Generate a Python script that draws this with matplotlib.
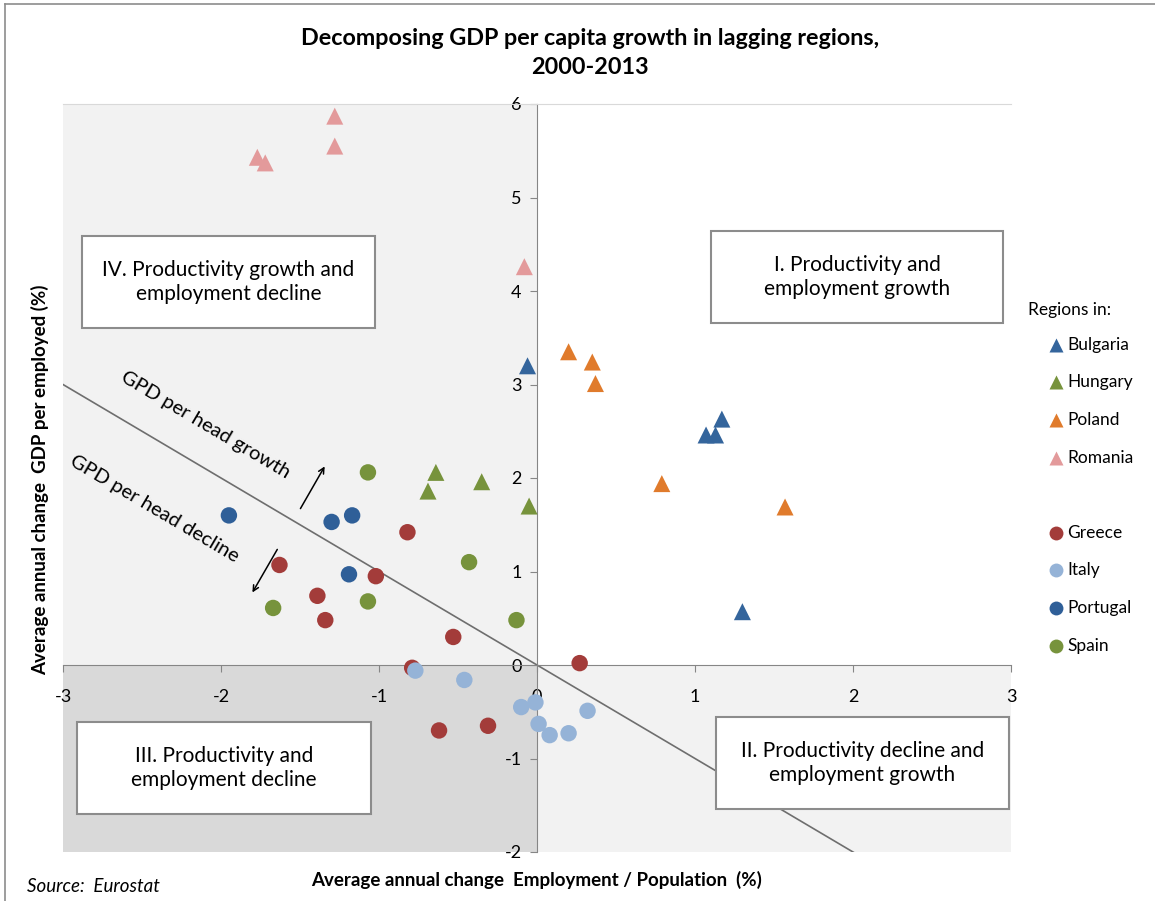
import matplotlib
matplotlib.use("Agg")
import matplotlib.pyplot as plt
from matplotlib.patches import Rectangle
from matplotlib.lines import Line2D

plt.rcParams['font.family'] = ['Lato', 'DejaVu Sans']
plt.rcParams['axes.unicode_minus'] = False

# Regions with triangles (x = employment/population change, y = GDP per employed change)
bulgaria_x = [-0.06, 1.07, 1.13, 1.17, 1.30]
bulgaria_y = [3.20, 2.46, 2.46, 2.63, 0.57]
hungary_x = [-0.64, -0.69, -0.35, -0.05]
hungary_y = [2.06, 1.86, 1.96, 1.70]
poland_x = [0.20, 0.35, 0.37, 0.79, 1.57]
poland_y = [3.35, 3.24, 3.01, 1.94, 1.69]
romania_x = [-1.28, -1.28, -1.77, -1.72, -0.08]
romania_y = [5.87, 5.55, 5.43, 5.37, 4.26]

# Regions with circles
greece_x = [-0.82, -1.63, -1.02, -1.39, -1.34, -0.53, -0.79, 0.27, -0.62, -0.31]
greece_y = [1.42, 1.07, 0.95, 0.74, 0.48, 0.30, -0.03, 0.02, -0.70, -0.65]
italy_x = [-0.77, -0.46, -0.10, -0.01, 0.01, 0.08, 0.20, 0.32]
italy_y = [-0.06, -0.16, -0.45, -0.40, -0.63, -0.75, -0.73, -0.49]
portugal_x = [-1.95, -1.30, -1.17, -1.19]
portugal_y = [1.60, 1.53, 1.60, 0.97]
spain_x = [-1.07, -0.43, -1.67, -1.07, -0.13]
spain_y = [2.06, 1.10, 0.61, 0.68, 0.48]

series = [
    ("Bulgaria", bulgaria_x, bulgaria_y, "#34659c", "^"),
    ("Hungary", hungary_x, hungary_y, "#77933c", "^"),
    ("Poland", poland_x, poland_y, "#e07b2c", "^"),
    ("Romania", romania_x, romania_y, "#e39a9b", "^"),
    ("Greece", greece_x, greece_y, "#a33c3a", "o"),
    ("Italy", italy_x, italy_y, "#95b3d7", "o"),
    ("Portugal", portugal_x, portugal_y, "#2f5f98", "o"),
    ("Spain", spain_x, spain_y, "#77933c", "o"),
]

quadrants = [
    ("IV. Productivity growth and\nemployment decline", -2.88, -1.025, 3.60, 4.59),
    ("I. Productivity and\nemployment growth", 1.10, 2.95, 3.66, 4.64),
    ("II. Productivity decline and\nemployment growth", 1.13, 2.99, -1.54, -0.556),
    ("III. Productivity and\nemployment decline", -2.91, -1.05, -1.59, -0.61),
]

fig = plt.figure(figsize=(11.55, 9.01), dpi=100)
ax = fig.add_axes([63 / 1155, 1 - 852 / 901, (1011 - 63) / 1155, (852 - 104) / 901])
ax.set_xlim(-3, 3)
ax.set_ylim(-2, 6)

# quadrant backgrounds
ax.add_patch(Rectangle((-3, -2), 6, 8, facecolor="#f2f2f2", edgecolor="none", zorder=0))
ax.add_patch(Rectangle((0, 0), 3, 6, facecolor="white", edgecolor="none", zorder=0))
ax.add_patch(Rectangle((-3, -2), 3, 2, facecolor="#d9d9d9", edgecolor="none", zorder=0))

# GDP per head = 0 line
ax.plot([-3, 3], [3, -3], color="#6e6e6e", lw=1.2, zorder=1)

for name, xs, ys, col, mk in series:
    size = 150 if mk == "^" else 140
    ax.scatter(xs, ys, s=size, marker=mk, color=col, edgecolors="none", zorder=3)

# quadrant text boxes
for label, x0, x1, y0, y1 in quadrants:
    ax.add_patch(Rectangle((x0, y0), x1 - x0, y1 - y0, facecolor="white",
                           edgecolor="#8c8c8c", lw=1.5, zorder=4))
    ax.text((x0 + x1) / 2, (y0 + y1) / 2, label, ha="center", va="center",
            fontsize=15, linespacing=1.25, zorder=5)

ax.text(-2.10, 2.57, "GPD per head growth", rotation=-30.6, ha="center", va="center",
        fontsize=14.5, rotation_mode="anchor", zorder=2)
ax.text(-2.42, 1.67, "GPD per head decline", rotation=-30.6, ha="center", va="center",
        fontsize=14.5, rotation_mode="anchor", zorder=2)
ax.annotate("", xy=(-1.335, 2.15), xytext=(-1.506, 1.647),
            arrowprops=dict(arrowstyle="->", color="black", lw=1.1), zorder=2)
ax.annotate("", xy=(-1.81, 0.75), xytext=(-1.635, 1.262),
            arrowprops=dict(arrowstyle="->", color="black", lw=1.1), zorder=2)

# axes through the origin
for side in ["left", "bottom"]:
    ax.spines[side].set_position(("data", 0))
    ax.spines[side].set_color("#868686")
    ax.spines[side].set_zorder(2)
ax.spines["right"].set_visible(False)
ax.spines["top"].set_color("#d9d9d9")
ax.set_xticks([-3, -2, -1, 0, 1, 2, 3])
ax.set_yticks([-2, -1, 0, 1, 2, 3, 4, 5, 6])
ax.tick_params(axis="both", direction="out", length=5, color="#868686", labelsize=13)
ax.tick_params(axis="x", pad=12)
ax.tick_params(axis="y", pad=6)

fig.text(590 / 1155, 1 - 53 / 901, "Decomposing GDP per capita growth in lagging regions,\n2000-2013",
         ha="center", va="center", fontsize=16.8, fontweight="bold", linespacing=1.5)
fig.text(537 / 1155, 1 - 880 / 901, "Average annual change  Employment / Population  (%)",
         ha="center", va="center", fontsize=13.5, fontweight="bold")
fig.text(40 / 1155, 1 - 480 / 901, "Average annual change  GDP per employed (%)",
         ha="center", va="center", rotation=90, fontsize=13.5, fontweight="bold")
fig.text(27 / 1155, 1 - 886 / 901, "Source:  Eurostat", ha="left", va="center",
         fontsize=13.5, style="italic")

# legend drawn by hand on the right
fig.text(1028 / 1155, 1 - 310 / 901, "Regions in:", ha="left", va="center", fontsize=12.5)
legend_rows = [345, 382, 420, 458, 533, 570, 608, 646]
for (name, xs, ys, col, mk), row in zip(series, legend_rows):
    yy = 1 - row / 901
    fig.add_artist(Line2D([1056 / 1155], [yy], marker=mk, color=col, markersize=10,
                          markeredgecolor="none", linestyle="none"))
    fig.text(1067 / 1155, yy, name, ha="left", va="center", fontsize=12.5)

# thin frame around the chart
fig.add_artist(Line2D([5 / 1155, 5 / 1155], [0, 1 - 4 / 901], color="#8c8c8c", lw=1.2))
fig.add_artist(Line2D([5 / 1155, 1], [1 - 4 / 901, 1 - 4 / 901], color="#8c8c8c", lw=1.2))

fig.savefig("out.png", dpi=100)
